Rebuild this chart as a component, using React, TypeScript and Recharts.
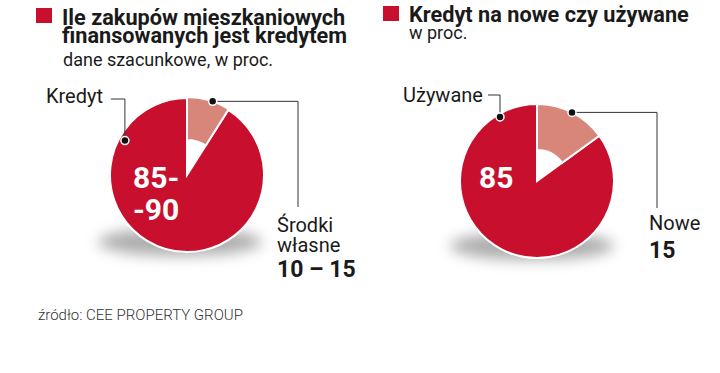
import { Cell, Pie, PieChart } from "recharts";

const RED = "#c8102e";
const SALMON = "#d9867a";
const INK = "#1a1a1a";

// share of purchases financed by mortgage (slice 0 = own funds, drawn first from 12 o'clock)
const financingData = [
  { name: "Środki własne", value: 9 },
  { name: "Kredyt", value: 91 },
];

// new vs. second-hand
const marketData = [
  { name: "Nowe", value: 15 },
  { name: "Używane", value: 85 },
];

const RAD = Math.PI / 180;

function polar(cx: number, cy: number, r: number, angle: number) {
  return [cx + r * Math.cos(-angle * RAD), cy + r * Math.sin(-angle * RAD)];
}

type LabelProps = {
  cx: number;
  cy: number;
  midAngle: number;
  outerRadius: number;
  index: number;
};

function Dot({ x, y }: { x: number; y: number }) {
  return <circle cx={x} cy={y} r={4} fill="#111" stroke="#fff" strokeWidth={1.5} />;
}

// leader from the small ring slice: right, then down to the label
function smallLeader(elbowDx: number, endDy: number, shift = 0) {
  return (props: LabelProps) => {
    if (props.index !== 0) return null;
    const { cx, cy, midAngle, outerRadius } = props;
    const [x, y] = polar(cx, cy, outerRadius, midAngle + shift);
    return (
      <g>
        <polyline
          points={`${x},${y} ${cx + elbowDx},${y} ${cx + elbowDx},${cy + endDy}`}
          fill="none"
          stroke="#333"
          strokeWidth={1}
        />
        <Dot x={x} y={y} />
      </g>
    );
  };
}

// leader from the big slice: up, then left to the label
function bigLeader(angle: number, inset: number, topDy: number, arm: number) {
  return (props: LabelProps) => {
    if (props.index !== 1) return null;
    const { cx, cy, outerRadius } = props;
    const [x, y] = polar(cx, cy, outerRadius - inset, angle);
    return (
      <g>
        <polyline
          points={`${x},${y} ${x},${cy + topDy} ${x - arm},${cy + topDy}`}
          fill="none"
          stroke="#333"
          strokeWidth={1}
        />
        <Dot x={x} y={y} />
      </g>
    );
  };
}

// one line of text placed by its baseline (Roboto metrics)
function Line({
  x,
  base,
  size,
  bold,
  weight,
  color = INK,
  align = "left",
  children,
}: {
  x: number;
  base: number;
  size: number;
  bold?: boolean;
  weight?: number;
  color?: string;
  align?: "left" | "right";
  children: React.ReactNode;
}) {
  const lh = Math.round(size * 0.8);
  const top = base - lh / 2 - 0.342 * size;
  const pos = align === "left" ? { left: x } : { right: 720 - x };
  return (
    <div
      style={{
        position: "absolute",
        ...pos,
        top,
        fontSize: size,
        fontWeight: weight ?? (bold ? 700 : 400),
        color,
        lineHeight: `${lh}px`,
        whiteSpace: "nowrap",
      }}
    >
      {children}
    </div>
  );
}

function Square({ left, top }: { left: number; top: number }) {
  return (
    <div
      style={{ position: "absolute", left, top, width: 16, height: 15, background: RED }}
    />
  );
}

function FloorShadow({ cx, cy }: { cx: number; cy: number }) {
  return (
    <div
      style={{
        position: "absolute",
        left: cx - 82,
        top: cy - 14,
        width: 164,
        height: 28,
        borderRadius: "50%",
        background: "rgba(0,0,0,0.32)",
        filter: "blur(7px)",
      }}
    />
  );
}

export default function App() {
  return (
    <div
      style={{
        position: "absolute",
        left: 0,
        top: 0,
        width: 720,
        height: 373,
        background: "#fff",
        fontFamily: "Roboto, 'Liberation Sans', sans-serif",
        overflow: "hidden",
      }}
    >
      <FloorShadow cx={180} cy={242} />
      <FloorShadow cx={532} cy={246} />
      <div style={{ position: "absolute", left: 0, top: 0 }}>
        <PieChart width={720} height={373} margin={{ top: 0, right: 0, bottom: 0, left: 0 }}>
          <Pie
            data={financingData}
            dataKey="value"
            cx={187}
            cy={175}
            outerRadius={77}
            startAngle={90}
            endAngle={-270}
            stroke="#fff"
            strokeWidth={2}
            label={bigLeader(151, 6, -76, 14)}
            labelLine={false}
            isAnimationActive={false}
          >
            <Cell fill="transparent" stroke="none" />
            <Cell fill={RED} />
          </Pie>
          <Pie
            data={financingData}
            dataKey="value"
            cx={187}
            cy={175}
            innerRadius={35}
            outerRadius={78}
            startAngle={90}
            endAngle={-270}
            stroke="#fff"
            strokeWidth={2}
            label={smallLeader(111, 32, -3)}
            labelLine={false}
            isAnimationActive={false}
          >
            <Cell fill={SALMON} />
            <Cell fill="transparent" stroke="none" />
          </Pie>
          <Pie
            data={marketData}
            dataKey="value"
            cx={537}
            cy={181}
            outerRadius={77}
            startAngle={90}
            endAngle={-270}
            stroke="#fff"
            strokeWidth={2}
            label={bigLeader(120, 3, -86, 12)}
            labelLine={false}
            isAnimationActive={false}
          >
            <Cell fill="transparent" stroke="none" />
            <Cell fill={RED} />
          </Pie>
          <Pie
            data={marketData}
            dataKey="value"
            cx={537}
            cy={181}
            innerRadius={31}
            outerRadius={77}
            startAngle={90}
            endAngle={-270}
            stroke="#fff"
            strokeWidth={2}
            label={smallLeader(120, 27)}
            labelLine={false}
            isAnimationActive={false}
          >
            <Cell fill={SALMON} />
            <Cell fill="transparent" stroke="none" />
          </Pie>
        </PieChart>
      </div>

      <Square left={36} top={8} />
      <Line x={62} base={25} size={21.7} bold>
        Ile zakupów mieszkaniowych
      </Line>
      <Line x={62} base={43} size={21.7} bold>
        finansowanych jest kredytem
      </Line>
      <Line x={63} base={66.5} size={18}>
        dane szacunkowe, w proc.
      </Line>

      <Square left={383} top={6} />
      <Line x={409} base={22} size={21.7} bold>
        Kredyt na nowe czy używane
      </Line>
      <Line x={409} base={39} size={18}>
        w proc.
      </Line>

      <Line x={103} base={103} size={20} align="right">
        Kredyt
      </Line>
      <Line x={403} base={102} size={20}>
        Używane
      </Line>

      <Line x={133} base={188} size={30} bold color="#fff">
        85-
      </Line>
      <Line x={133} base={220} size={30} bold color="#fff">
        -90
      </Line>
      <Line x={479} base={188} size={30} bold color="#fff">
        85
      </Line>

      <Line x={277} base={232} size={20}>
        Środki
      </Line>
      <Line x={277} base={252} size={20}>
        własne
      </Line>
      <Line x={277} base={278} size={23} bold>
        10 – 15
      </Line>

      <Line x={649} base={230} size={20}>
        Nowe
      </Line>
      <Line x={649} base={259} size={23} bold>
        15
      </Line>

      <Line x={38} base={320} size={15} weight={300} color="#333">
        źródło: CEE PROPERTY GROUP
      </Line>
    </div>
  );
}
